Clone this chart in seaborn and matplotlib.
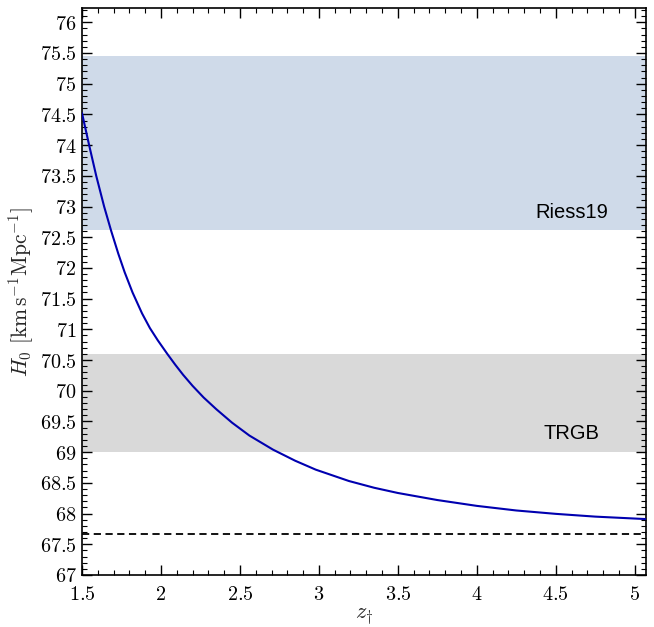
import numpy as np
import pandas as pd
import seaborn as sns
import matplotlib.pyplot as plt
from matplotlib.ticker import MultipleLocator, FuncFormatter

# curve
z_dag = [1.5, 1.545, 1.59, 1.64, 1.685, 1.73, 1.77, 1.82, 1.88, 1.93, 1.98, 2.04,
         2.09, 2.14, 2.2, 2.27, 2.35, 2.45, 2.56, 2.71, 2.85, 2.98, 3.19, 3.35,
         3.5, 3.75, 4.0, 4.25, 4.5, 4.75, 5.07]
h0 = [74.52, 74.0, 73.5, 73.0, 72.6, 72.23, 71.93, 71.6, 71.26, 71.02, 70.82, 70.6,
      70.425, 70.26, 70.08, 69.89, 69.70, 69.48, 69.27, 69.04, 68.86, 68.715, 68.53, 68.42,
      68.335, 68.22, 68.125, 68.05, 67.995, 67.95, 67.91]

# reference bands (mean, sigma)
riess_mean, riess_sig = 74.03, 1.42
trgb_mean, trgb_sig = 69.8, 0.8
planck_h0 = 67.66
x_range = [1.5, 5.07]

sns.set_theme(style="ticks")
plt.rcParams.update({
    "font.family": ["DejaVu Serif"],
    "mathtext.fontset": "cm",
    "xtick.direction": "in",
    "ytick.direction": "in",
    "xtick.top": True,
    "ytick.right": True,
    "xtick.major.size": 7,
    "ytick.major.size": 7,
    "xtick.minor.size": 3.5,
    "ytick.minor.size": 3.5,
    "xtick.major.width": 1.0,
    "ytick.major.width": 1.0,
    "xtick.minor.width": 0.8,
    "ytick.minor.width": 0.8,
    "axes.linewidth": 1.2,
    "axes.edgecolor": "black",
    "xtick.color": "black",
    "ytick.color": "black",
})

fig = plt.figure(figsize=(6.54, 6.27), dpi=100)
ax = fig.add_axes([0.1254, 0.083, 0.862, 0.904])

ax.axhspan(riess_mean - riess_sig, riess_mean + riess_sig, color="#cfdae9", lw=0, zorder=0)
ax.axhspan(trgb_mean - trgb_sig, trgb_mean + trgb_sig, color="#d9d9d9", lw=0, zorder=0)

df = pd.DataFrame({"z": z_dag, "H0": h0})
sns.lineplot(data=df, x="z", y="H0", color="#0000b0", linewidth=1.5, ax=ax, zorder=3)

planck = pd.DataFrame({"z": x_range, "H0": [planck_h0, planck_h0]})
sns.lineplot(data=planck, x="z", y="H0", color="black", linewidth=1.3,
             linestyle=(0, (4, 2.5)), ax=ax, zorder=2)

ax.text(4.6, 72.91, "Riess19", family="Liberation Sans", fontsize=14.5,
        ha="center", va="center", color="black")
ax.text(4.6, 69.3, "TRGB", family="Liberation Sans", fontsize=14.5,
        ha="center", va="center", color="black")

ax.set_xlim(1.5, 5.07)
ax.set_ylim(67, 76.23)
ax.xaxis.set_major_locator(MultipleLocator(0.5))
ax.xaxis.set_minor_locator(MultipleLocator(0.1))
ax.yaxis.set_major_locator(MultipleLocator(0.5))
ax.yaxis.set_minor_locator(MultipleLocator(0.1))
fmt = FuncFormatter(lambda v, p: f"${v:g}$")
ax.xaxis.set_major_formatter(fmt)
ax.yaxis.set_major_formatter(fmt)
ax.tick_params(axis="y", labelsize=14.5, pad=4)
ax.tick_params(axis="x", labelsize=14.5, pad=7)

ax.set_xlabel(r"$z_{\dag}$", fontsize=16, labelpad=1)
ax.set_ylabel(r"$H_0\ [\mathrm{km\,s^{-1}Mpc^{-1}}]$", fontsize=15.5, labelpad=3)

plt.savefig("out.png", dpi=100)
